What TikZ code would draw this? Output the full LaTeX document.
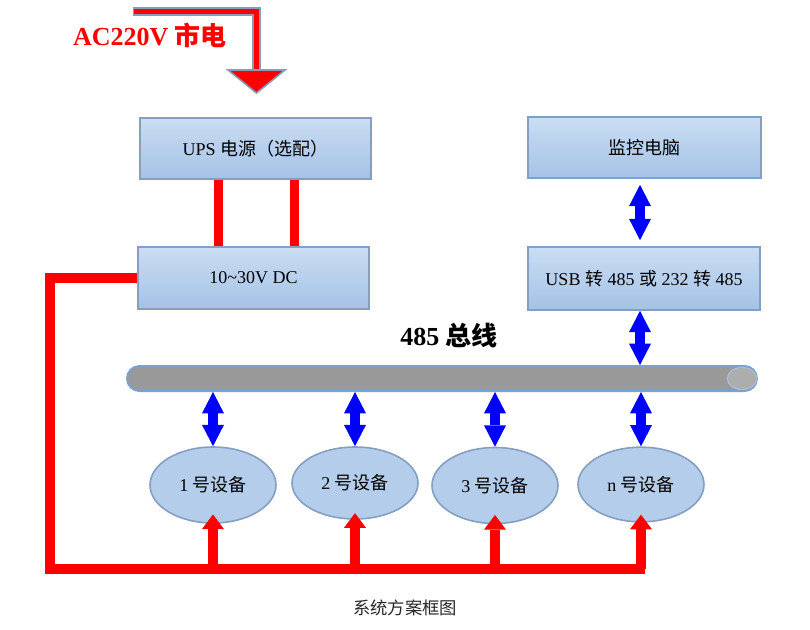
\documentclass[tikz,border=0pt]{standalone}
\usepackage{fontspec}
\setmainfont{Liberation Serif}
\newfontfamily\cjk{Noto Sans CJK SC}
\usetikzlibrary{arrows.meta,shapes.geometric}
\definecolor{boxtop}{HTML}{CADDF3}
\definecolor{boxbot}{HTML}{A4C2E6}
\definecolor{boxedge}{HTML}{859FC3}
\definecolor{elfill}{HTML}{B4CDEA}
\definecolor{acedge}{HTML}{8A9BB5}
\definecolor{busgray}{HTML}{999999}
\definecolor{busedge}{HTML}{7EA1CB}
\definecolor{capgray}{HTML}{ADADAD}
\definecolor{capedge}{HTML}{A9BDD6}
\tikzset{
  box/.style={rectangle, draw=boxedge, line width=1.2pt, top color=boxtop, bottom color=boxbot,
    minimum width=173.5pt, minimum height=46pt, inner sep=0pt, font=\fontsize{13.5}{15}\selectfont},
  dev/.style={ellipse, draw=boxedge, line width=1.2pt, fill=elfill, minimum width=94.5pt,
    minimum height=55.5pt, inner sep=0pt, font=\fontsize{13.5}{15}\selectfont},
  bluearr/.style={draw=blue, line width=7.2pt,
    {Triangle[width=16.5pt,length=16pt,line width=0pt]}-{Triangle[width=16.5pt,length=16pt,line width=0pt]}},
  redbar/.style={draw=red, line width=6.75pt, line cap=butt, line join=miter},
  redarr/.style={draw=red, line width=7.5pt, -{Triangle[width=16.5pt,length=11pt,line width=0pt]}},
}
\begin{document}
\begin{tikzpicture}[x=0.75pt,y=-0.75pt]
\useasboundingbox (0,0) rectangle (810,629);

% AC input arrow
\coordinate (acstart) at (133,11.5);
\coordinate (acbend) at (256.5,11.5);
\coordinate (acneck) at (256.5,72);
\coordinate (actip) at (256.5,93);
\coordinate (acl) at (228,70);
\coordinate (acr) at (285,70);
\draw[acedge, line width=6.2pt, line join=miter] (acstart) -- (acbend) -- (acneck);
\draw[red, line width=4pt, line join=miter, shorten <=1pt] (acstart) -- (acbend) -- (acneck);
\filldraw[fill=red, draw=acedge, line width=1.2pt, line join=miter] (acl) -- (acr) -- (actip) -- cycle;
\node[red, font=\fontsize{19.5}{21}\selectfont\bfseries] (ac) at (150,35) {AC220V {\cjk 市电}};

% boxes
\node[box, minimum width=173.25pt, minimum height=45.75pt] (ups) at (255.5,148.5) {UPS {\cjk 电源（选配）}};
\node[box, minimum width=173.25pt, minimum height=46.5pt] (dc) at (253.5,278) {10\textasciitilde30V DC};
\node[box, minimum width=174.75pt, minimum height=45.75pt] (mon) at (644.5,147.5) {\cjk 监控电脑};
\node[box, minimum width=174pt, minimum height=47.25pt] (usb) at (644,278.5) {USB {\cjk 转} 485 {\cjk 或} 232 {\cjk 转} 485};

% UPS - DC bars
\coordinate (b1) at (218.5,0);
\coordinate (b2) at (294.5,0);
\draw[redbar] (ups.south -| b1) -- (dc.north -| b1);
\draw[redbar] (ups.south -| b2) -- (dc.north -| b2);

% bus
\node[draw=busedge, line width=1.5pt, fill=busgray, rounded corners=9.4pt, minimum width=472.5pt,
  minimum height=18.75pt, inner sep=0pt] (bus) at (442,378.5) {};
\node[ellipse, fill=capgray, draw=capedge, line width=1pt, minimum width=22pt, minimum height=16.5pt,
  inner sep=0pt] (buscap) at (742,378.5) {};
\node[font=\fontsize{19.5}{21}\selectfont\bfseries] (buslabel) at (449,336) {485 {\cjk 总线}};

% devices
\node[dev, minimum height=57pt] (e1) at (213,485) {1 {\cjk 号设备}};
\node[dev, minimum height=54pt] (e2) at (355,483) {2 {\cjk 号设备}};
\node[dev, minimum height=57pt] (e3) at (495,485.5) {3 {\cjk 号设备}};
\node[dev, minimum height=56pt] (en) at (641,484.5) {n {\cjk 号设备}};

% blue data arrows
\coordinate (bx) at (640,0);
\draw[bluearr, shorten <=4.5pt, shorten >=4.5pt] (mon.south -| bx) -- (usb.north -| bx);
\draw[bluearr] (usb.south -| bx) -- (bus.north -| bx);
\draw[bluearr] (bus.south -| e1) -- (e1.north);
\draw[bluearr] (bus.south -| e2) -- (e2.north);
\draw[bluearr] (bus.south -| e3) -- (e3.north);
\draw[bluearr] (bus.south -| en) -- (en.north);

% red power loop
\coordinate (rl) at (50,0);
\coordinate (rbot) at (0,569);
\coordinate (rend) at (645,569);
\draw[redbar, line width=7pt] (dc.west) -- (dc.west -| rl) -- (rl |- rbot) -- (rend);
\draw[redarr] (e1 |- rbot) -- ([yshift=7pt]e1.south);
\draw[redarr] (e2 |- rbot) -- ([yshift=5pt]e2.south);
\draw[redarr] (e3 |- rbot) -- ([yshift=7pt]e3.south);
\draw[redarr] (en |- rbot) -- ([yshift=6pt]en.south);

% caption
\node[font={\cjk\fontsize{13}{15}\selectfont}, text=black!85] (caption) at (405,608) {系统方案框图};
\end{tikzpicture}
\end{document}
